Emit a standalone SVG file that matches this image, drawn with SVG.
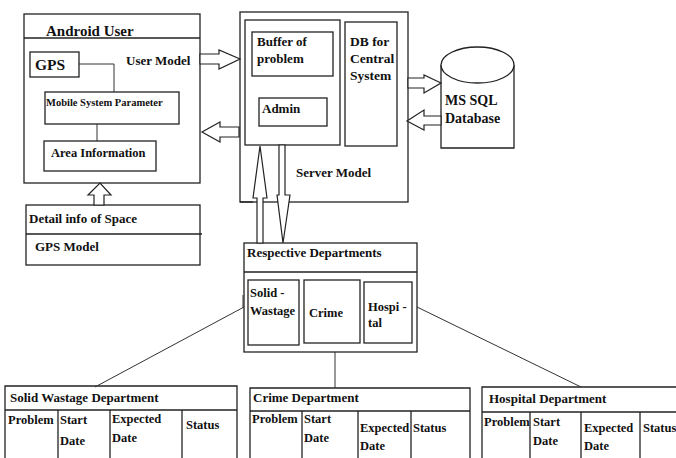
<svg xmlns="http://www.w3.org/2000/svg" width="676" height="458" viewBox="0 0 676 458">
<style>
.b{fill:#fff;stroke:#222;stroke-width:1.3}
.n{fill:none;stroke:#222;stroke-width:1.3}
.l{fill:none;stroke:#333;stroke-width:1}
.a{fill:#fff;stroke:#222;stroke-width:1.2;stroke-linejoin:miter}
text{font-family:"Liberation Serif","Times New Roman",serif;font-weight:bold;fill:#111}
</style>
<rect width="676" height="458" fill="#fff"/>
<g id="android-user">
<rect class="b" x="24" y="14" width="176" height="169"/>
<line class="n" x1="24" y1="38" x2="200" y2="38"/>
<text x="46" y="36" font-size="15">Android User</text>
<text x="126" y="65" font-size="13">User Model</text>
</g>
<g id="gps">
<rect class="b" x="30" y="52" width="49" height="25"/>
<text x="35" y="70" font-size="15.5">GPS</text>
<polyline class="l" points="79,64 114,64 114,92"/>
</g>
<g id="mobile-system-parameter">
<rect class="b" x="45" y="92" width="134" height="32"/>
<text x="46" y="106" font-size="10.5">Mobile System Parameter</text>
<line class="l" x1="97" y1="124" x2="97" y2="141"/>
</g>
<g id="area-information">
<rect class="b" x="44" y="141" width="112" height="30"/>
<text x="51" y="157" font-size="12.5">Area Information</text>
</g>
<g id="gps-model">
<rect class="b" x="26" y="205" width="174" height="60"/>
<line class="n" x1="26" y1="234" x2="202" y2="234"/>
<text x="29" y="223" font-size="13">Detail info of Space</text>
<text x="35" y="251" font-size="13">GPS Model</text>
</g>
<g id="server-model">
<rect class="b" x="240" y="12" width="168" height="190"/>
<rect class="b" x="245" y="20" width="95" height="125"/>
<text x="296" y="177" font-size="13">Server Model</text>
</g>
<g id="buffer">
<rect class="b" x="252" y="32" width="81" height="44"/>
<text x="257" y="46" font-size="13">Buffer of</text>
<text x="257" y="63" font-size="13">problem</text>
</g>
<g id="admin">
<rect class="b" x="259" y="98" width="68" height="28"/>
<text x="262" y="113" font-size="13">Admin</text>
</g>
<g id="db-central">
<rect class="b" x="345" y="22" width="52" height="124"/>
<text x="350" y="46" font-size="13.5">DB for</text>
<text x="350" y="63" font-size="13.5">Central</text>
<text x="350" y="80" font-size="13.5">System</text>
</g>
<g id="ms-sql">
<path class="b" d="M441,65 L441,148 L514,148 L514,65"/>
<ellipse class="b" cx="477.5" cy="65" rx="36.5" ry="18"/>
<text x="445" y="105" font-size="14">MS SQL</text>
<text x="445" y="123" font-size="14">Database</text>
</g>
<g id="respective-departments">
<rect class="b" x="244" y="243" width="173" height="109"/>
<line class="n" x1="244" y1="272" x2="417" y2="272"/>
<text x="247" y="257" font-size="13">Respective Departments</text>
<rect class="b" x="248" y="280" width="51" height="65"/>
<text x="250" y="297" font-size="12.5">Solid -</text>
<text x="250" y="315" font-size="12.5">Wastage</text>
<rect class="b" x="304" y="280" width="56" height="63"/>
<text x="309" y="317" font-size="12.5">Crime</text>
<rect class="b" x="364" y="282" width="48" height="61"/>
<text x="368" y="311" font-size="12.5">Hospi -</text>
<text x="368" y="327" font-size="12.5">tal</text>
</g>
<g id="solid-wastage-department">
<polyline class="n" points="5,460 5,386 237,386 237,460"/>
<line class="n" x1="5" y1="410" x2="237" y2="410"/>
<line class="n" x1="58" y1="410" x2="58" y2="460"/>
<line class="n" x1="110" y1="410" x2="110" y2="460"/>
<line class="n" x1="182" y1="410" x2="182" y2="460"/>
<text x="10" y="402" font-size="13">Solid Wastage Department</text>
<text x="8" y="424" font-size="12.5">Problem</text>
<text x="60" y="424" font-size="12.5">Start</text>
<text x="60" y="445" font-size="12.5">Date</text>
<text x="112" y="423" font-size="12.5">Expected</text>
<text x="112" y="442" font-size="12.5">Date</text>
<text x="186" y="429" font-size="12.5">Status</text>
</g>
<g id="crime-department">
<polyline class="n" points="250,460 250,388 470,388 470,460"/>
<line class="n" x1="250" y1="411" x2="470" y2="411"/>
<line class="n" x1="302" y1="411" x2="302" y2="460"/>
<line class="n" x1="358" y1="411" x2="358" y2="460"/>
<line class="n" x1="411" y1="411" x2="411" y2="460"/>
<text x="253" y="402" font-size="13">Crime Department</text>
<text x="252" y="423" font-size="12.5">Problem</text>
<text x="304" y="423" font-size="12.5">Start</text>
<text x="304" y="442" font-size="12.5">Date</text>
<text x="360" y="432" font-size="12.5">Expected</text>
<text x="360" y="450" font-size="12.5">Date</text>
<text x="413" y="432" font-size="12.5">Status</text>
</g>
<g id="hospital-department">
<polyline class="n" points="482,460 482,387 680,387"/>
<line class="n" x1="482" y1="412" x2="680" y2="412"/>
<line class="n" x1="530" y1="412" x2="530" y2="460"/>
<line class="n" x1="581" y1="412" x2="581" y2="460"/>
<line class="n" x1="640" y1="412" x2="640" y2="460"/>
<text x="489" y="403" font-size="13">Hospital Department</text>
<text x="484" y="426" font-size="12.5">Problem</text>
<text x="533" y="426" font-size="12.5">Start</text>
<text x="533" y="445" font-size="12.5">Date</text>
<text x="584" y="432" font-size="12.5">Expected</text>
<text x="584" y="450" font-size="12.5">Date</text>
<text x="643" y="432" font-size="12.5">Status</text>
</g>
<g id="connectors">
<polygon class="a" points="200,54 219,54 219,50 240,59 219,69 219,64 200,64"/>
<polygon class="a" points="239,127 220,127 220,122 202,132 220,142 220,137 239,137"/>
<polygon class="a" points="408,78 424,78 424,75 441,83 424,93 424,88 408,88"/>
<polygon class="a" points="441,116 424,116 424,110 407,121 424,130 424,125 441,125"/>
<polygon class="a" points="94,205 94,195 88,195 100,183 111,195 104,195 104,205"/>
<polygon class="a" points="257,243 257,198 253,198 260,146 267,198 263,198 263,243"/>
<polygon class="a" points="279,145 279,195 277,195 283,243 290,195 285,195 285,145"/>
<line class="n" x1="240" y1="202" x2="253" y2="202"/>
<line class="l" x1="244" y1="307" x2="95" y2="387"/>
<line class="l" x1="243" y1="295" x2="243" y2="308"/>
<line class="l" x1="417" y1="307" x2="581" y2="387"/>
<line class="l" x1="335" y1="352" x2="335" y2="388"/>
</g>
</svg>
